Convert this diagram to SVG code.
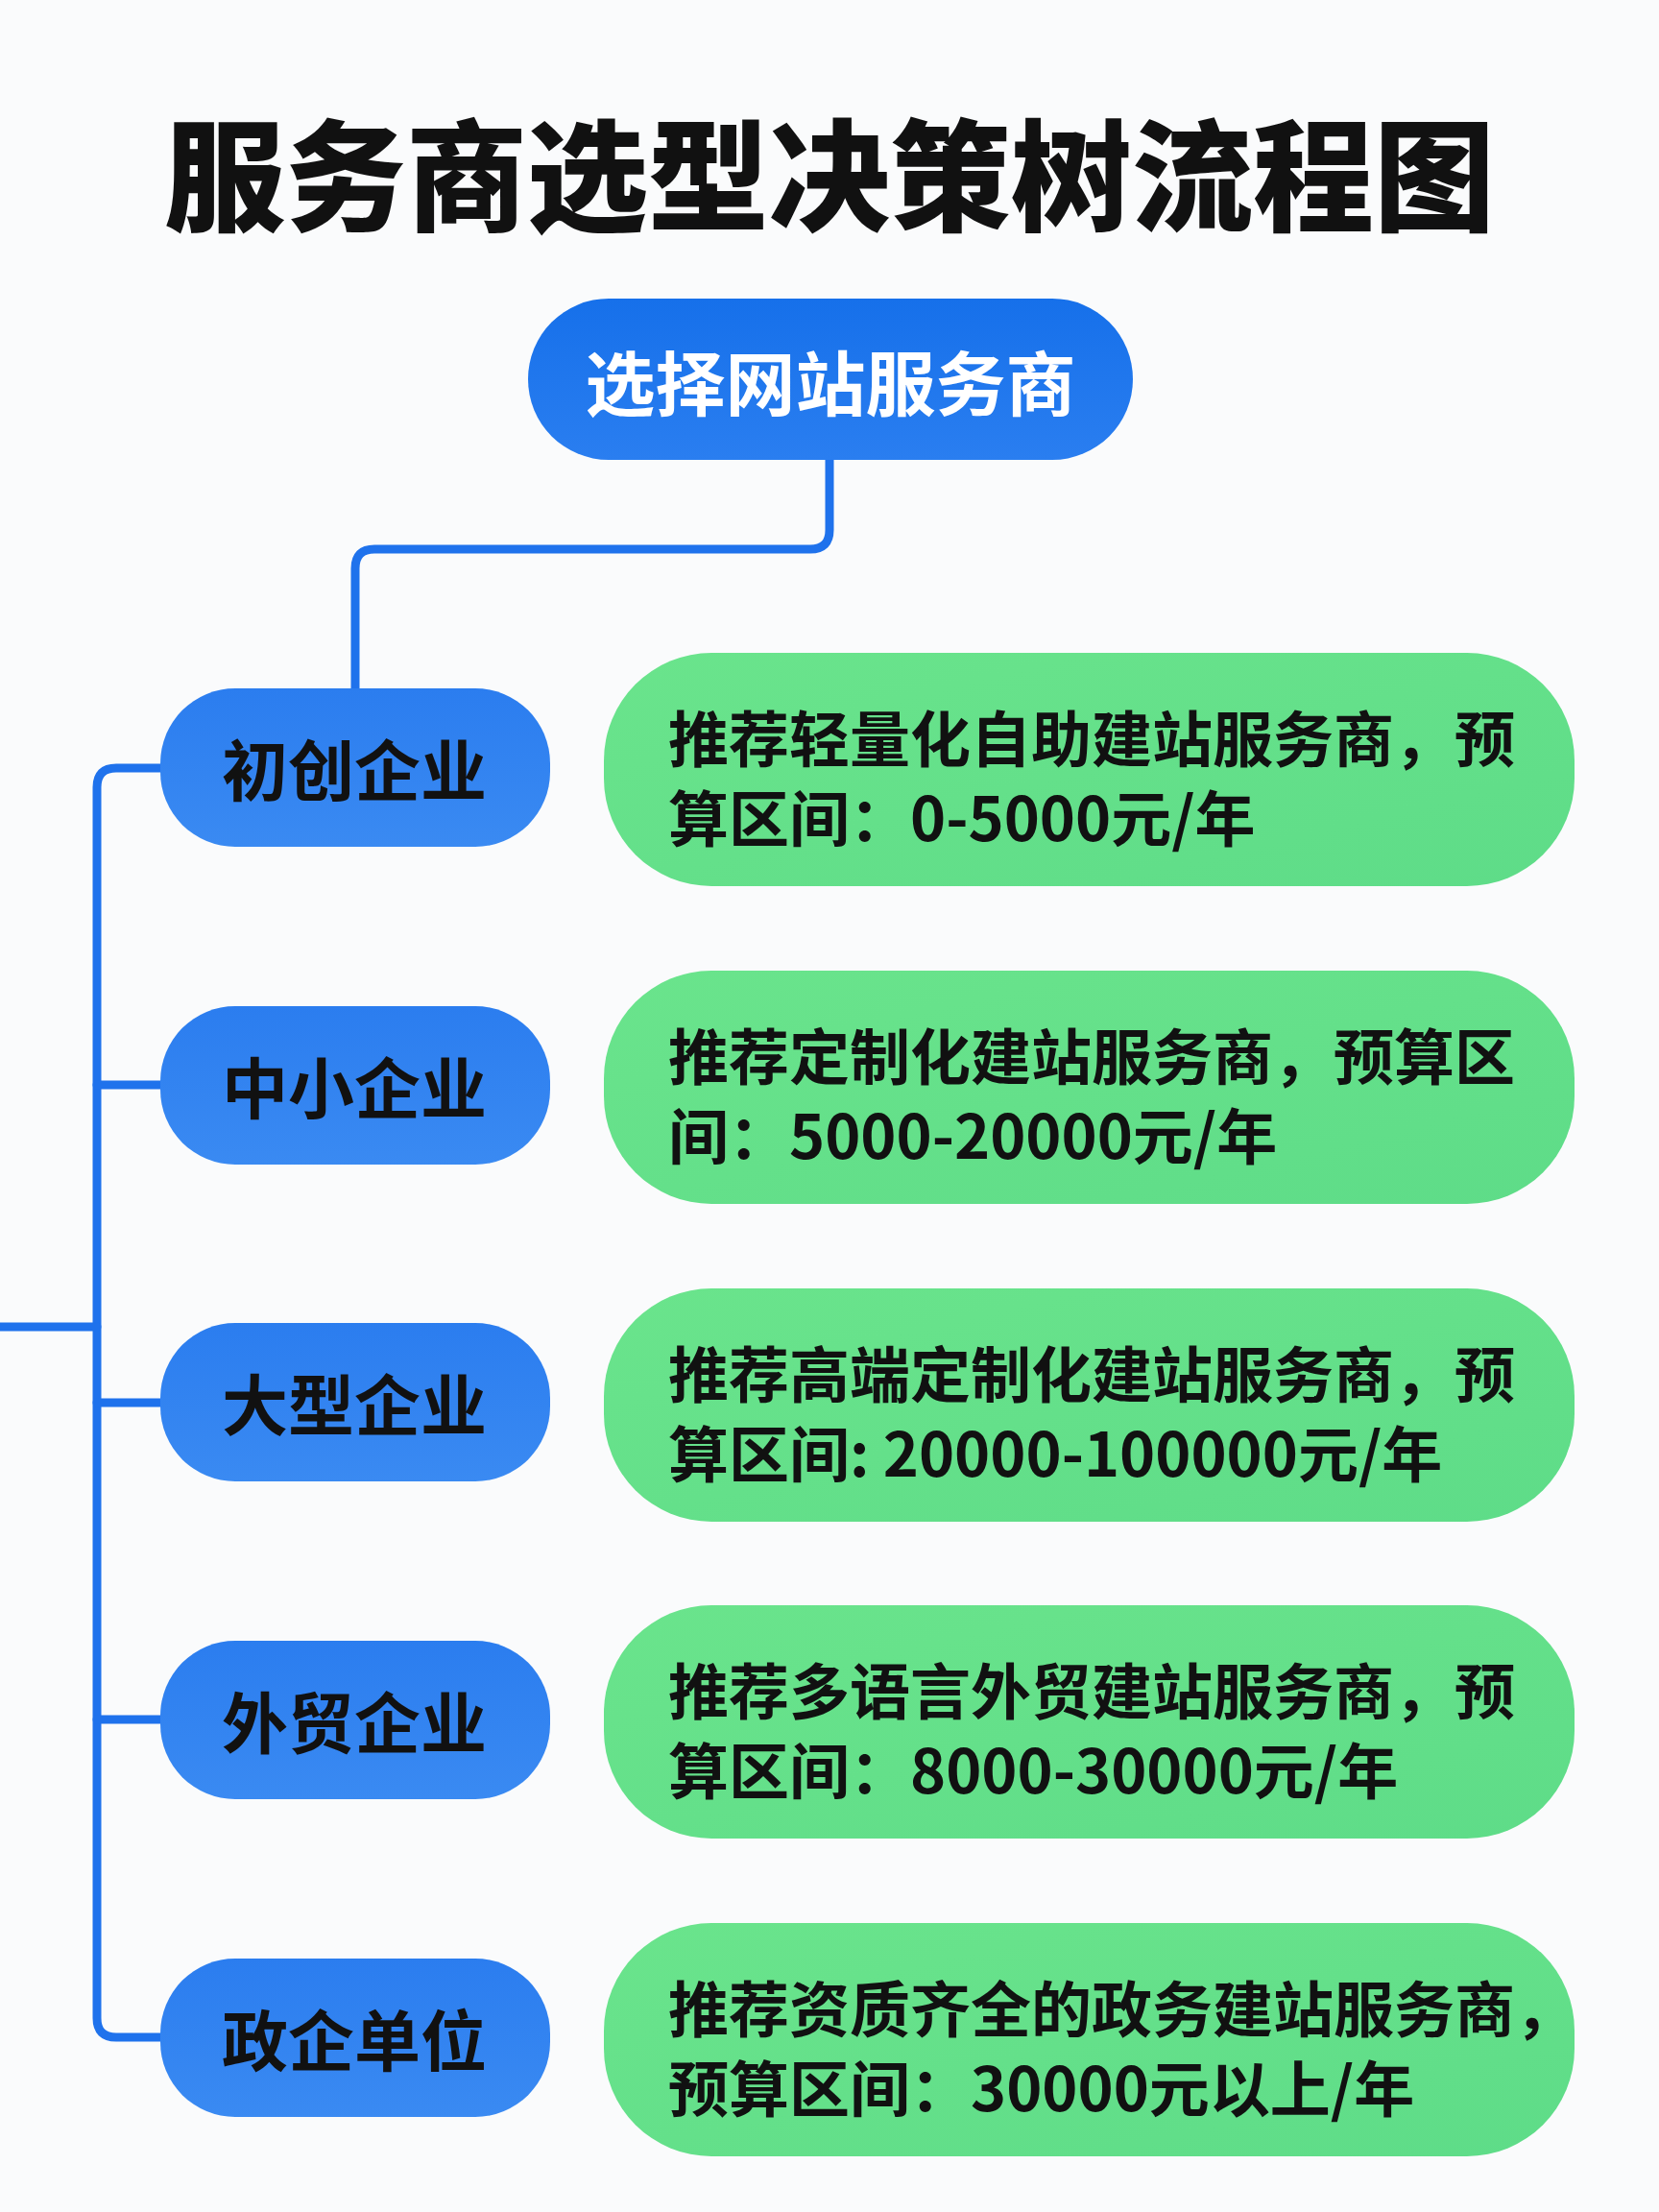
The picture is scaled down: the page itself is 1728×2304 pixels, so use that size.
<svg xmlns="http://www.w3.org/2000/svg" width="1728" height="2304" viewBox="0 0 1728 2304">
<defs>
<linearGradient id="gBlue" x1="0" y1="0" x2="0" y2="1">
<stop offset="0" stop-color="#2b7def"/>
<stop offset="1" stop-color="#3a8af2"/>
</linearGradient>
<linearGradient id="gRoot" x1="0" y1="0" x2="0" y2="1">
<stop offset="0" stop-color="#1670ea"/>
<stop offset="1" stop-color="#2a7ef0"/>
</linearGradient>
<linearGradient id="gGreen" x1="0" y1="0" x2="1" y2="1">
<stop offset="0" stop-color="#6ae48c"/>
<stop offset="1" stop-color="#5edc88"/>
</linearGradient>
<style>
text{font-family:"Noto Sans CJK SC","Noto Sans",sans-serif;}
.title{font-size:126px;font-weight:900;fill:#111;text-anchor:middle;dominant-baseline:central;}
.rootT{font-size:73px;font-weight:700;fill:#fff;text-anchor:middle;dominant-baseline:central;}
.catT{font-size:69px;font-weight:700;fill:#111;text-anchor:middle;dominant-baseline:central;}
.recT{font-size:63px;font-weight:700;fill:#111;dominant-baseline:central;}
.cat{fill:url(#gBlue);}
.rec{fill:url(#gGreen);}
.conn{fill:none;stroke:#1f72ec;stroke-width:9;stroke-linecap:round;stroke-linejoin:round;}
</style>
</defs>
<rect x="0" y="0" width="1728" height="2304" fill="#fafbfc"/>
<text class="title" x="864" y="176">服务商选型决策树流程图</text>

<g id="connectors">
<path class="conn" d="M864 479 V552 Q864 572 844 572 H390 Q370 572 370 592 V717"/>
<path class="conn" d="M167 800 H121 Q101 800 101 820 V2102 Q101 2122 121 2122 H167"/>
<path class="conn" d="M101 1130 H167"/>
<path class="conn" d="M101 1461 H167"/>
<path class="conn" d="M101 1791 H167"/>
<path class="conn" d="M-5 1382 H101"/>
</g>

<g id="root">
<rect x="550" y="311" width="630" height="168" rx="84" fill="url(#gRoot)"/>
<text class="rootT" x="865" y="395">选择网站服务商</text>
</g>

<g id="cat1">
<rect class="cat" x="167" y="717" width="406" height="165" rx="78"/>
<text class="catT" x="369" y="799">初创企业</text>
</g>
<g id="cat2">
<rect class="cat" x="167" y="1048" width="406" height="165" rx="78"/>
<text class="catT" x="369" y="1130">中小企业</text>
</g>
<g id="cat3">
<rect class="cat" x="167" y="1378" width="406" height="165" rx="78"/>
<text class="catT" x="369" y="1460">大型企业</text>
</g>
<g id="cat4">
<rect class="cat" x="167" y="1709" width="406" height="165" rx="78"/>
<text class="catT" x="369" y="1791">外贸企业</text>
</g>
<g id="cat5">
<rect class="cat" x="167" y="2040" width="406" height="165" rx="78"/>
<text class="catT" x="369" y="2122">政企单位</text>
</g>

<g id="rec1">
<rect class="rec" x="629" y="680" width="1011" height="243" rx="112"/>
<text class="recT" x="696" y="765">推荐轻量化自助建站服务商，预</text>
<text class="recT" x="696" y="848">算区间：0-5000元/年</text>
</g>
<g id="rec2">
<rect class="rec" x="629" y="1011" width="1011" height="243" rx="112"/>
<text class="recT" x="696" y="1096">推荐定制化建站服务商，预算区</text>
<text class="recT" x="696" y="1179">间：5000-20000元/年</text>
</g>
<g id="rec3">
<rect class="rec" x="629" y="1342" width="1011" height="243" rx="112"/>
<text class="recT" x="696" y="1427">推荐高端定制化建站服务商，预</text>
<text class="recT" x="696" y="1510">算区间: 20000-100000元/年</text>
</g>
<g id="rec4">
<rect class="rec" x="629" y="1672" width="1011" height="243" rx="112"/>
<text class="recT" x="696" y="1757">推荐多语言外贸建站服务商，预</text>
<text class="recT" x="696" y="1840">算区间：8000-30000元/年</text>
</g>
<g id="rec5">
<rect class="rec" x="629" y="2003" width="1011" height="243" rx="112"/>
<text class="recT" x="696" y="2088">推荐资质齐全的政务建站服务商，</text>
<text class="recT" x="696" y="2171">预算区间：30000元以上/年</text>
</g>
</svg>
